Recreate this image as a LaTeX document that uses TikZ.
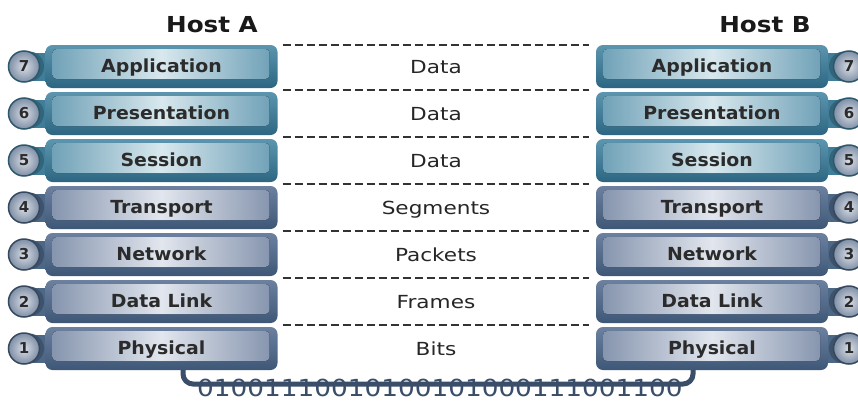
\documentclass[tikz,border=0pt]{standalone}
\usepackage{fontspec}
\setmainfont{DejaVu Sans}
\usepackage{graphicx}
\usetikzlibrary{calc}

% frame and panel colours
\definecolor{tealfr}{HTML}{3F7D99}
\definecolor{tealtop}{HTML}{5B95AE}
\definecolor{tealbot}{HTML}{2D6682}
\definecolor{tealedge}{HTML}{6A9DB4}
\definecolor{tealmid}{HTML}{D8E8EE}
\definecolor{slatefr}{HTML}{4D6787}
\definecolor{slatetop}{HTML}{6C81A0}
\definecolor{slatebot}{HTML}{3F5777}
\definecolor{slateedge}{HTML}{8090AA}
\definecolor{slatemid}{HTML}{E2E6EE}
\definecolor{labeltxt}{HTML}{2B2B2B}
\definecolor{wire}{HTML}{3A4E69}
\definecolor{badgein}{HTML}{D9DEE6}
\definecolor{badgeout}{HTML}{7F8FA6}
\definecolor{sepline}{HTML}{333333}

% horizontally stretched text
\newcommand\wtxt[2]{\scalebox{#1}[1]{#2}}

\tikzset{
  layerbase/.style={minimum width=232pt, minimum height=43pt, rounded corners=7pt,
    inner sep=0pt, text height=13pt, text depth=2pt,
    font=\fontsize{18}{21}\selectfont\bfseries, text=labeltxt},
  upperlayer/.style={layerbase, top color=tealtop, bottom color=tealbot,
    path picture={\fill[rounded corners=4pt, left color=tealedge, right color=tealedge, middle color=tealmid]
      ([xshift=7pt,yshift=-4pt]path picture bounding box.north west) rectangle
      ([xshift=-8pt,yshift=9pt]path picture bounding box.south east);}},
  lowerlayer/.style={layerbase, top color=slatetop, bottom color=slatebot,
    path picture={\fill[rounded corners=4pt, left color=slateedge, right color=slateedge, middle color=slatemid]
      ([xshift=7pt,yshift=-4pt]path picture bounding box.north west) rectangle
      ([xshift=-8pt,yshift=9pt]path picture bounding box.south east);}},
  pdu/.style={anchor=base, font=\fontsize{18}{21}\selectfont, text=black!85},
  hostlbl/.style={anchor=base, font=\fontsize{22}{26}\selectfont\bfseries, text=black!90},
  sep/.style={draw=sepline, line width=1.6pt, dash pattern=on 8pt off 4pt},
  pics/badge/.style n args={3}{code={
    % #1 layer number, #2 frame colour, #3 side of the neck (1 right, -1 left)
    \fill[#2] (0,-14) rectangle (#3*22,14);
    \fill[#2!80!black] (#3*5,0) circle[radius=15];
    \shadedraw[inner color=badgein, outer color=badgeout, draw=#2!70!black, line width=1.5pt]
      (0,0) circle[radius=15.5];
    \node[font=\fontsize{15}{17}\selectfont\bfseries, text=labeltxt] (-num) at (0,0) {#1};
  }}
}

\begin{document}
\begin{tikzpicture}[x=1pt, y=-1pt]
\clip (0,0) rectangle (858,402);
\fill[white] (0,0) rectangle (858,402);

% host titles
\node[hostlbl] (hostA) at (212,32) {\wtxt{1.12}{Host A}};
\node[hostlbl] (hostB) at (765,32) {\wtxt{1.12}{Host B}};

% layer badges, drawn first so the boxes cover the necks
\foreach \n/\y/\c in {7/66.5/tealfr, 6/113.5/tealfr, 5/160.5/tealfr,
                      4/207.5/slatefr, 3/254.5/slatefr, 2/301.5/slatefr, 1/348.5/slatefr}{
  \pic (bA\n) at (24,\y) {badge={\n}{\c}{1}};
  \pic (bB\n) at (849,\y) {badge={\n}{\c}{-1}};
}

% Host A stack
\node[upperlayer] (a7) at (161.5,66.5)  {\wtxt{1.05}{Application}};
\node[upperlayer] (a6) at (161.5,113.5) {\wtxt{1.05}{Presentation}};
\node[upperlayer] (a5) at (161.5,160.5) {\wtxt{1.05}{Session}};
\node[lowerlayer] (a4) at (161.5,207.5) {\wtxt{1.05}{Transport}};
\node[lowerlayer] (a3) at (161.5,254.5) {\wtxt{1.05}{Network}};
\node[lowerlayer] (a2) at (161.5,301.5) {\wtxt{1.05}{Data Link}};
\node[lowerlayer] (a1) at (161.5,348.5) {\wtxt{1.05}{Physical}};

% Host B stack
\node[upperlayer] (b7) at (712,66.5)  {\wtxt{1.05}{Application}};
\node[upperlayer] (b6) at (712,113.5) {\wtxt{1.05}{Presentation}};
\node[upperlayer] (b5) at (712,160.5) {\wtxt{1.05}{Session}};
\node[lowerlayer] (b4) at (712,207.5) {\wtxt{1.05}{Transport}};
\node[lowerlayer] (b3) at (712,254.5) {\wtxt{1.05}{Network}};
\node[lowerlayer] (b2) at (712,301.5) {\wtxt{1.05}{Data Link}};
\node[lowerlayer] (b1) at (712,348.5) {\wtxt{1.05}{Physical}};

% peer-to-peer separators
\draw[sep] ($(a7.north east)+(5,0)$) -- ($(b7.north west)+(-7,0)$);
\foreach \u/\l in {7/6, 6/5, 5/4, 4/3, 3/2, 2/1}{
  \draw[sep] ($(a\u.south east)!.5!(a\l.north east)+(5,0)$) --
             ($(b\u.south west)!.5!(b\l.north west)+(-7,0)$);
}

% data units exchanged at each layer
\node[pdu] (p7) at (436,73.5)  {\wtxt{1.2}{Data}};
\node[pdu] (p6) at (436,120.5) {\wtxt{1.2}{Data}};
\node[pdu] (p5) at (436,167.5) {\wtxt{1.2}{Data}};
\node[pdu] (p4) at (436,214.5) {\wtxt{1.2}{Segments}};
\node[pdu] (p3) at (436,261.5) {\wtxt{1.2}{Packets}};
\node[pdu] (p2) at (436,308.5) {\wtxt{1.2}{Frames}};
\node[pdu] (p1) at (436,355.5) {\wtxt{1.2}{Bits}};

% physical medium carrying the bit stream
\coordinate (wl) at (183,384);
\coordinate (wr) at (693,384);
\draw[wire, line width=5pt, rounded corners=10pt]
  (a1.south -| wl) -- (wl) -- (wr) -- (b1.south -| wr);
\node[anchor=base, inner sep=0pt, font=\fontsize{23.5}{27}\selectfont, text=wire] (bits) at (440,396)
  {\wtxt{1.12}{01001110010100101000111001100}};
\end{tikzpicture}
\end{document}
